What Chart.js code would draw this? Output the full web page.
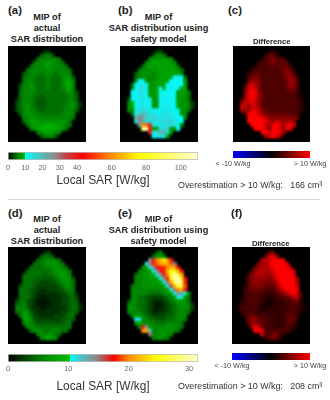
<!DOCTYPE html>
<html><head><meta charset="utf-8">
<style>
html,body{margin:0;padding:0;background:#fff;width:330px;height:400px;overflow:hidden;font-family:"Liberation Sans",Arial,sans-serif}
canvas{position:absolute;display:block}
.t{position:absolute;white-space:pre;line-height:1;transform:translate(-50%,-50%);color:#222}
.b{font-weight:bold}
.l{position:absolute;white-space:pre;line-height:1;transform:translateY(-50%);color:#222}
</style>
<script src="https://cdn.jsdelivr.net/npm/chart.js@4/dist/chart.umd.min.js"></script>
</head><body>
<script>
// first column of the head in each of the 24 grid rows
const rowStart=[9,8,7,6,5,4,3,3,3,2,2,2,2,1,1,1,1,2,3,3,4,5,7,8];
const panelA=[[2,2],[4,5,6,4],[5,6,6,6,6,6,5],[5,6,6,7,8,7,6,6,5],[5,6,6,6,7,8,7,6,6,6,5],[5,6,6,6,6,6,7,6,6,6,6,6,5],[4,5,6,6,6,5,6,6,6,5,6,6,6,6],[5,6,6,6,5,5,5,6,5,5,5,6,7,7,4],[5,6,6,5,5,5,5,6,5,5,5,6,8,8,6],[3,6,6,7,6,5,5,5,6,5,5,5,6,8,9,6],[4,6,6,7,6,5,5,5,6,5,5,5,6,7,9,6],[5,6,6,6,6,5,5,5,5,5,5,5,5,6,7,6,3],[5,6,6,6,5,5,4,5,5,5,5,5,5,5,6,6,4],[2,5,6,6,6,5,4,4,4,5,5,5,5,5,5,6,6,4],[3,5,6,6,6,5,4,4,4,5,5,5,5,5,5,6,7,5,2],[3,5,6,7,6,5,4,4,4,5,5,5,5,5,6,6,7,5,2],[3,5,6,7,6,6,5,4,5,5,5,5,5,5,6,6,6,4],[4,6,7,7,6,6,5,5,5,5,5,5,6,6,6,6],[6,6,7,7,6,6,6,6,6,6,6,6,6,6,5],[5,6,7,8,7,7,7,7,7,7,7,7,7,5],[5,7,8,8,8,9,9,9,8,8,7,6,5],[5,7,8,9,9,9,9,9,8,7,5],[6,7,8,8,8,7,6],[4,6,6,6,4]];
const panelB=[[3,3],[4,6,6,5],[6,7,7,7,7,7,6],[6,7,8,8,8,8,8,7,6],[5,7,8,8,8,8,8,8,8,7,5],[5,6,7,7,7,7,8,8,8,8,8,7,5],[4,6,7,7,7,6,7,8,8,8,8,8,8,6],[5,6,7,7,6,6,7,8,8,8,8,11,11,11,5],[6,11,11,7,6,7,8,8,8,8,11,11,11,11,7],[5,11,13,14,11,7,7,8,8,8,11,11,11,11,11,8],[6,11,14,15,11,7,7,8,11,9,11,11,11,11,8,8],[11,12,14,14,11,7,7,8,11,11,11,11,11,7,8,8,5],[11,12,14,13,11,8,7,8,11,13,11,11,11,7,8,7,5],[4,11,12,13,13,12,11,7,7,11,12,12,11,11,7,8,7,5],[6,9,11,13,13,12,11,7,7,11,12,12,12,11,8,7,7,6,3],[7,8,11,13,14,13,11,7,7,11,13,13,12,11,8,7,7,6,3],[6,6,11,14,15,14,12,11,11,12,13,13,12,11,11,7,7,5],[5,12,18,20,18,14,13,12,13,14,14,13,12,11,7,6],[20,28,24,17,15,16,15,14,14,14,14,13,11,11,6],[14,28,22,15,15,14,13,14,15,15,16,14,11,11],[24,60,55,38,13,14,14,14,14,15,14,11,6],[95,105,45,7,8,13,16,15,8,7,11],[40,14,15,20,23,15,7],[11,13,15,14,8]];
const panelC=[[1,2],[2,4,4,2],[2,3,4,5,4,3,3],[2,3,3,4,5,4,3,4,3],[2,3,3,3,3,4,3,4,4,4,2],[2,3,3,3,3,3,3,3,3,4,5,4,2],[2,3,4,4,3,3,3,3,3,3,4,5,5,3],[3,5,5,4,3,3,3,3,3,3,4,5,6,5,2],[4,6,6,5,3,3,3,3,3,3,3,4,6,6,3],[2,7,8,7,5,3,3,3,3,3,3,3,4,6,6,3],[4,8,9,8,5,3,3,3,3,3,3,3,4,5,5,3],[5,9,10,9,5,4,3,3,3,3,3,3,3,4,4,3,1],[6,9,10,9,6,4,3,3,3,3,3,3,3,3,3,2,1],[3,6,9,10,8,6,4,3,3,3,3,3,3,3,3,3,3,2],[6,8,8,9,8,5,4,3,3,3,3,3,3,3,3,3,3,2,1],[8,8,5,8,8,6,4,3,3,3,3,3,3,3,3,3,3,2,1],[7,6,6,9,9,7,5,4,3,3,3,3,3,3,3,3,3,2],[3,9,10,10,8,6,5,4,4,4,4,4,4,4,3,3],[10,10,10,10,9,7,6,5,5,5,5,5,5,5,4],[10,10,10,10,10,9,7,6,8,7,6,6,7,6],[10,10,10,10,7,6,9,10,9,6,9,10,8],[10,10,10,8,5,10,10,9,5,9,9],[10,10,8,10,10,9,7],[7,8,10,9,6]];
const panelD=[[2,3],[4,5,5,4],[5,5,6,7,6,6,5],[5,5,5,6,7,7,7,6,5],[5,5,5,5,6,6,6,7,7,6,5],[5,5,5,5,5,5,5,6,7,7,7,6,5],[4,5,5,5,5,5,4,5,5,6,7,8,7,6],[5,5,5,5,4,4,4,4,4,5,6,7,8,6,4],[5,5,5,4,4,3,3,3,4,4,5,6,7,7,5],[4,5,5,5,4,3,3,3,3,3,3,4,5,6,7,5],[5,5,5,4,3,3,2,2,3,3,3,3,4,5,6,5],[5,5,5,4,3,2,2,2,2,2,2,3,3,4,5,5,2],[5,5,5,4,3,2,1,1,2,2,2,2,3,3,4,5,3],[3,5,5,4,3,2,1,1,1,1,2,2,2,3,3,4,5,4],[5,5,6,4,3,2,1,1,1,1,2,2,2,3,3,4,5,5,2],[6,6,6,5,3,2,2,1,1,2,2,2,2,2,3,4,5,5,2],[5,5,7,7,4,3,2,2,2,2,2,2,2,3,3,4,5,4],[5,8,8,5,3,3,2,2,2,2,3,3,3,4,5,5],[8,8,6,4,3,3,3,3,3,3,3,4,4,5,4],[6,7,6,5,4,4,4,4,4,4,4,4,5,5],[6,6,6,5,5,5,5,5,5,5,5,5,5],[5,6,7,6,5,5,6,6,6,5,5],[6,6,6,7,7,5,5],[6,7,9,7,6]];
const panelE=[[4,6],[5,7,8,6],[14,17,20,22,24,21,17],[11,15,18,19,21,22,21,19,15],[7,8,11,14,17,18,18,20,22,21,17],[6,6,7,8,11,14,17,18,21,25,25,22,17],[5,6,6,7,8,8,11,14,17,20,26,30,27,21],[6,6,7,7,8,8,8,11,14,18,24,30,31,24,17],[6,6,7,7,7,8,8,8,11,15,21,27,31,28,18],[5,6,6,7,7,7,7,7,7,8,11,16,22,26,26,19],[6,6,6,6,6,6,6,6,6,7,8,11,15,20,21,17],[6,6,6,6,6,5,5,5,5,6,7,8,11,14,13,11,6],[6,6,5,5,4,4,3,3,3,4,5,6,8,11,11,8,5],[3,6,6,5,5,4,3,2,2,2,3,4,5,6,8,8,7,5],[6,7,6,5,5,4,3,2,1,1,2,3,4,5,6,7,7,6,3],[7,7,6,5,5,4,3,2,1,2,2,3,4,5,6,7,7,6,3],[6,6,6,6,5,4,3,2,2,2,3,3,4,5,6,6,6,5],[6,8,7,6,5,4,3,3,3,3,4,4,5,6,6,6],[11,11,7,6,5,5,4,4,4,5,5,5,6,6,5],[7,9,7,6,6,6,5,5,5,6,6,6,6,5],[6,17,14,7,6,6,6,6,7,7,6,6,5],[20,21,12,6,6,7,7,7,7,6,5],[15,6,6,7,8,6,6],[6,6,7,6,5]];
const panelF=[[3,5],[4,8,9,7],[6,7,8,10,10,10,9],[5,6,7,8,10,10,10,10,9],[4,6,7,7,8,9,10,10,10,10,8],[3,6,7,7,7,7,8,10,10,10,10,10,8],[2,5,6,7,7,6,6,7,9,10,10,10,10,9],[3,5,6,6,6,6,5,6,8,10,10,10,10,10,6],[3,5,6,6,5,5,5,5,6,9,10,10,10,10,7],[1,3,5,5,5,5,4,4,4,5,8,10,10,10,10,8],[2,3,4,4,4,4,3,3,3,4,6,8,10,10,10,9],[2,3,3,3,3,3,2,2,2,3,4,5,7,9,10,9,3],[2,3,3,3,3,2,2,1,2,2,3,3,4,5,7,8,3],[1,2,3,3,3,3,2,2,1,1,2,2,2,3,3,4,5,2],[2,2,3,3,3,2,2,1,1,1,2,2,2,2,3,3,3,2,1],[3,3,3,3,3,2,1,1,1,2,2,2,2,2,3,3,3,2,1],[2,2,3,3,3,2,2,2,2,2,2,2,2,3,3,3,3,1],[2,3,4,4,3,3,3,2,2,2,2,2,3,3,4,2],[4,6,6,4,3,3,3,2,2,2,2,3,4,4,2],[3,5,6,5,4,3,3,2,2,2,2,3,4,3],[6,9,8,4,3,3,2,2,2,2,3,3,2],[10,10,9,3,3,3,3,3,3,3,2],[9,3,3,4,5,3,2],[2,3,5,4,2]];

const topTicks=[0,10,20,30,40,60,80,100];
const bottomTicks=[0,10,20,30];
const diffTicks=[-10,10];
const diffLabels=['< -10 W/kg','> 10 W/kg'];
const sarTitle='Local SAR [W/kg]';

const topStops=[[0,'#000000'],[3,'#004600'],[6,'#008800'],[10,'#00be00'],[10.01,'#00ffff'],[20,'#59b8b8'],[27,'#8c8c8c'],[33,'#c04848'],[43,'#ff0000'],[60,'#ff8c00'],[76,'#ffff00'],[110,'#ffffd0']];
const bottomStops=[[0,'#000000'],[3,'#004600'],[6,'#008800'],[10.3,'#00be00'],[10.31,'#00ffff'],[12.5,'#59b8b8'],[14.5,'#8c8c8c'],[16,'#c04848'],[17.5,'#ff0000'],[20,'#ff8c00'],[24.5,'#ffff00'],[31.5,'#ffffd0']];
const diffStops=[[-10,'#0000ff'],[0,'#000000'],[10,'#ff0000']];

Chart.defaults.font.family='"Liberation Sans",Arial,sans-serif';
Chart.defaults.animation=false;

function rgb(h){return [1,3,5].map(i=>parseInt(h.substr(i,2),16));}
function colorFor(stops,v){
  if(v<=stops[0][0])return stops[0][1];
  for(let i=1;i<stops.length;i++){
    if(v<=stops[i][0]){
      const a=stops[i-1],b=stops[i],f=(v-a[0])/(b[0]-a[0]),p=rgb(a[1]),q=rgb(b[1]);
      return 'rgb('+p.map((c,k)=>Math.round(c+(q[k]-c)*f)).join(',')+')';
    }
  }
  return stops[stops.length-1][1];
}
function addCanvas(left,top,w,h){
  const c=document.createElement('canvas');
  c.width=w;c.height=h;c.style.left=left+'px';c.style.top=top+'px';c.style.width=w+'px';c.style.height=h+'px';
  document.body.appendChild(c);return c;
}
const smooth={id:'smooth',
  beforeDatasetsDraw(ch){const c=ch.ctx;c.save();c.fillStyle='#000';c.fillRect(0,0,ch.width,ch.height);c.restore();},
  afterDatasetsDraw(ch){const c=ch.ctx;c.save();c.filter='blur(1px)';c.drawImage(ch.canvas,0,0);c.restore();}
};
function heat(left,top,w,h,grid,stops){
  const pts=[];
  grid.forEach((row,r)=>row.forEach((v,i)=>pts.push({x:rowStart[r]+i,y:r,v})));
  new Chart(addCanvas(left,top,w,h),{type:'scatter',
    data:{datasets:[{data:pts,pointStyle:'rect',pointRadius:2.95,borderWidth:0,pointBorderWidth:0,
      pointBackgroundColor:c=>colorFor(stops,c.raw.v)}]},
    options:{responsive:false,events:[],clip:false,layout:{padding:0},
      plugins:{legend:{display:false},tooltip:{enabled:false}},
      scales:{x:{type:'linear',display:false,min:-0.5,max:19.5},y:{type:'linear',display:false,reverse:true,min:-0.5,max:23.5}}},
    plugins:[smooth]});
}
function bar(o){
  const min=o.stops[0][0],max=o.max;
  new Chart(addCanvas(o.left,o.top,o.w,o.h),{type:'bar',
    data:{labels:['scale'],datasets:[{data:[[min,max]],barPercentage:1,categoryPercentage:1,borderWidth:o.border?1:0,borderColor:'#bbbbbb',borderSkipped:false,
      backgroundColor(c){
        const a=c.chart.chartArea;if(!a)return '#000';
        const g=c.chart.ctx.createLinearGradient(a.left,0,a.right,0);
        o.stops.forEach(s=>g.addColorStop(Math.min(1,(s[0]-min)/(max-min)),s[1]));
        return g;
      }}]},
    options:{indexAxis:'y',responsive:false,events:[],
      layout:{padding:{left:o.pl,right:o.pr,top:o.pt,bottom:0}},
      plugins:{legend:{display:false},tooltip:{enabled:false}},
      scales:{
        y:{display:false},
        x:{type:'linear',min,max,grid:{display:false,drawTicks:false},border:{display:false},
          afterBuildTicks(ax){ax.ticks=o.ticks.map(v=>({value:v}));},
          afterFit(ax){ax.height=o.h-o.pt-o.bh;},
          ticks:{autoSkip:false,maxRotation:0,color:o.tickColor,padding:o.tp,font:{size:o.fs},
            callback:o.labels?((v)=>o.labels[o.ticks.indexOf(v)]):(v=>String(v))},
          title:o.title?{display:true,text:o.title,color:'#333',font:{size:11.9},padding:{top:0,bottom:2.5}}:{display:false}
        }}}});
}
function txt(cls,s,x,y,size,color){
  const d=document.createElement('div');d.className=cls;d.textContent=s;d.style.left=x+'px';d.style.top=y+'px';d.style.fontSize=size+'px';
  if(color)d.style.color=color;document.body.appendChild(d);
}

heat(8,46,78,96,panelA,topStops);
heat(120,46,78,96,panelB,topStops);
heat(233,46,77,96,panelC,diffStops);
heat(8,247,78,97,panelD,bottomStops);
heat(120,247,78,97,panelE,bottomStops);
heat(232,247,78,97,panelF,diffStops);

bar({left:0,top:148,w:210,h:42,pl:8,pr:12,pt:4,bh:8,stops:topStops,max:110,ticks:topTicks,title:sarTitle,tickColor:'#666',tp:4,fs:7.3,border:true});
bar({left:0,top:350,w:210,h:46,pl:8,pr:12,pt:4,bh:8,stops:bottomStops,max:31.5,ticks:bottomTicks,title:sarTitle,tickColor:'#666',tp:3,fs:7.3,border:true});
bar({left:205,top:147,w:125,h:24,pl:28,pr:20,pt:4,bh:7,stops:diffStops,max:10,ticks:diffTicks,labels:diffLabels,tickColor:'#444',tp:2,fs:7.2});
bar({left:204,top:349,w:126,h:24,pl:28,pr:20,pt:4,bh:7,stops:diffStops,max:10,ticks:diffTicks,labels:diffLabels,tickColor:'#444',tp:2,fs:7.2});

[['(a)',8,11],['(b)',118,11],['(c)',228,11],['(d)',8,214],['(e)',118,214],['(f)',231,214]].forEach(a=>txt('l b',a[0],a[1],a[2],11.4));
[['MIP of',47,18],['actual',47,29],['SAR distribution',47,40],['MIP of',158.5,18],['SAR distribution using',158.5,29],['safety model',158.5,40],
 ['MIP of',47,220],['actual',47,231],['SAR distribution',47,242],['MIP of',158.5,220],['SAR distribution using',158.5,231],['safety model',158.5,242]
].forEach(a=>txt('t b',a[0],a[1],a[2],9.2));
txt('t b','Difference',271.7,41.7,7.7);
txt('t b','Difference',270.7,243.5,7.7);
txt('l','Overestimation > 10 W/kg:   166 cm\u00b3',178,185,8.9,'#333');
txt('l','Overestimation > 10 W/kg:   208 cm\u00b3',178,386,8.9,'#333');
const sep=document.createElement('div');
sep.style.cssText='position:absolute;left:8px;top:198.5px;width:312px;height:1px;background:#d8d8d8';
document.body.appendChild(sep);
</script>
</body></html>
